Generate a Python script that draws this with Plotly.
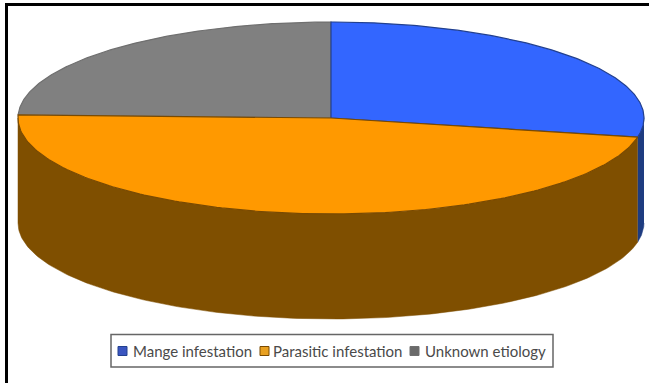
import numpy as np
import plotly.graph_objects as go

categories = ["Mange infestation", "Parasitic infestation", "Unknown etiology"]
shares = [28.2, 47.3, 24.5]
top_colors = ["#3366FF", "#FF9900", "#808080"]
wall_colors = ["#1E3C80", "#7F4F00", "#666666"]
edge_colors = ["#22408F", "#7A4A00", "#6F6F6F"]
swatch_colors = ["#3A55C0", "#E8A020", "#6A6A6A"]
swatch_left = [118, 260, 410]
label_left = [133, 273, 425]

# Projected disc geometry, in the 649x383 plotting units
CX, CY, RX, RY, DEPTH = 331.0, 118.0, 313.0, 96.0, 105.0


def rim(deg_from, deg_to, y0=CY):
    t = np.radians(np.linspace(deg_from, deg_to, 180))
    return CX + RX * np.sin(t), y0 - RY * np.cos(t)


fig = go.Figure()
edges = np.concatenate([[0], np.cumsum(shares)]) / sum(shares) * 360

# Front wall: only the part of each slice between 90 and 270 degrees shows
for i in range(len(categories)):
    a, b = max(edges[i], 90), min(edges[i + 1], 270)
    if b <= a:
        continue
    xt, yt = rim(a, b)
    xb, yb = rim(b, a, CY + DEPTH)
    fig.add_trace(go.Scatter(
        x=np.r_[xt, xb], y=np.r_[yt, yb], mode="lines", fill="toself",
        fillcolor=wall_colors[i], line=dict(color=wall_colors[i], width=0.5),
        showlegend=False, hoverinfo="skip"))

# Top face slices; the orange one goes last so its brown outline stays on top
for i in (2, 0, 1):
    xr, yr = rim(edges[i], edges[i + 1])
    fig.add_trace(go.Scatter(
        x=np.r_[CX, xr, CX], y=np.r_[CY, yr, CY], mode="lines", fill="toself",
        fillcolor=top_colors[i], line=dict(color=edge_colors[i], width=1.2),
        name=categories[i], showlegend=False, hoverinfo="name"))

# Panel frame: left and top rules only, the others run off the page
shapes = [
    dict(type="line", xref="x", yref="y", x0=6.5, y0=3, x1=6.5, y1=383,
         line=dict(color="#000000", width=3)),
    dict(type="line", xref="x", yref="y", x0=5, y0=4.5, x1=649, y1=4.5,
         line=dict(color="#000000", width=3)),
    # Legend box
    dict(type="rect", xref="x", yref="y", x0=111, y0=334.5, x1=553, y1=367,
         line=dict(color="#666666", width=1.5), fillcolor="#FFFFFF"),
]
annotations = []

# Legend entries: a small square and its label
for name, color, edge, sx, lx in zip(categories, swatch_colors, edge_colors,
                                     swatch_left, label_left):
    shapes.append(dict(type="rect", xref="x", yref="y", x0=sx, y0=346.5,
                       x1=sx + 9, y1=355.5, fillcolor=color,
                       line=dict(color=edge, width=1)))
    annotations.append(dict(xref="x", yref="y", x=lx, y=351, text=name,
                            xanchor="left", yanchor="middle", showarrow=False,
                            xshift=-2,
                            font=dict(family="Lato", size=15, color="#4A4A4A")))

fig.update_layout(
    width=649, height=383, margin=dict(l=0, r=0, t=0, b=0),
    paper_bgcolor="#FFFFFF", plot_bgcolor="#FFFFFF",
    xaxis=dict(range=[0, 649], visible=False, fixedrange=True),
    yaxis=dict(range=[383, 0], visible=False, fixedrange=True),
    shapes=shapes, annotations=annotations, showlegend=False,
)
fig.write_html("out.html", config={"displayModeBar": False})
